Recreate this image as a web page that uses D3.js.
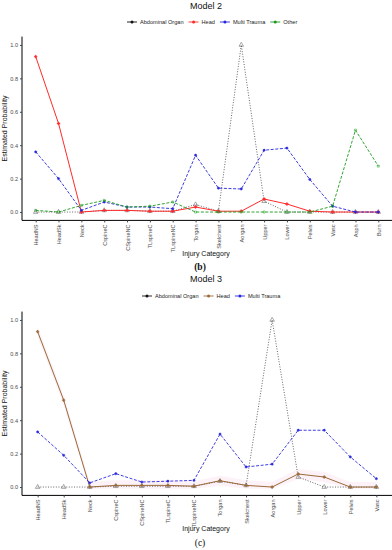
<!DOCTYPE html>
<html>
<head>
<meta charset="utf-8">
<script src="https://cdn.jsdelivr.net/npm/d3@7"></script>
<style>
  body { margin: 0; background: #fff; }
  svg { display: block; font-family: "Liberation Sans", Arial, sans-serif; }
</style>
</head>
<body>
<svg id="chart" width="392" height="550"></svg>
<script>
"use strict";

// Model 2 data
var cats2 = ["HeadNS", "HeadSk", "Neck", "CspineC", "CSpineNC", "TLspineC", "TLspineNC", "Torgan",
             "Skelchest", "Aorgan", "Upper", "Lower", "Pelvis", "Vasc", "Asph", "Burn"];
var abdominal2 = [0, 0, 0, 0.01, 0.01, 0.005, 0.005, 0.045, 0.005, 1.0, 0.065, 0, 0, 0, 0, 0];
var head2      = [0.93, 0.53, 0, 0.01, 0.01, 0.005, 0.005, 0.03, 0.005, 0.005, 0.078, 0.048, 0.005, 0, 0, 0];
var multi2     = [0.36, 0.2, 0.01, 0.06, 0.03, 0.03, 0.02, 0.34, 0.143, 0.138, 0.37, 0.383, 0.195, 0.035, 0, 0];
var other2     = [0.01, 0, 0.04, 0.07, 0.03, 0.035, 0.06, 0, 0, 0, 0, 0, 0, 0.035, 0.49, 0.275];

// Model 3 data
var cats3 = ["HeadNS", "HeadSk", "Neck", "CspineC", "CSpineNC", "TLspineC", "TLspineNC", "Torgan",
             "Skelchest", "Aorgan", "Upper", "Lower", "Pelvis", "Vasc"];
var abdominal3 = [0, 0, 0, 0.005, 0.005, 0.005, 0.005, 0.035, 0.01, 1.0, 0.06, 0, 0, 0];
var head3      = [0.93, 0.52, 0, 0.01, 0.01, 0.01, 0.005, 0.038, 0.01, 0, 0.078, 0.06, 0, 0];
var multi3     = [0.33, 0.19, 0.025, 0.08, 0.03, 0.035, 0.04, 0.317, 0.12, 0.137, 0.34, 0.34, 0.18, 0.05];

var yTicks = [0, 0.2, 0.4, 0.6, 0.8, 1.0];

var svg = d3.select("#chart");

function panel(opts) {
  var g = svg.append("g");
  var n = opts.cats.length;
  var x = d3.scaleLinear().domain([0.4, n + 0.6]).range([22, 392]);
  var y = d3.scaleLinear().domain([-0.05, 1.05]).range([opts.bottom, opts.top]);

  // title
  g.append("text")
    .attr("x", 206).attr("y", opts.titleY)
    .attr("text-anchor", "middle")
    .style("font-size", "9px").attr("fill", "#111")
    .text(opts.title);

  // legend
  var leg = g.append("g").attr("transform", "translate(0," + opts.legendY + ")");
  var lx = opts.legendX;
  opts.series.forEach(function(s) {
    var it = leg.append("g").attr("transform", "translate(" + lx + ",0)");
    it.append("line").attr("x1", -5).attr("x2", 5).attr("y1", 0).attr("y2", 0)
      .attr("stroke", s.legendColor || s.color).attr("stroke-width", 0.9);
    it.append("circle").attr("r", 1.5)
      .attr("fill", s.legendColor || s.color);
    var t = it.append("text").attr("x", 8).attr("y", 2)
      .style("font-size", "5.6px").attr("fill", "#222").text(s.name);
    lx += 8 + t.node().getComputedTextLength() + 10;
  });

  // y axis
  var yAxis = g.append("g").attr("transform", "translate(22,0)")
    .call(d3.axisLeft(y).tickValues(yTicks).tickFormat(d3.format(".1f")).tickSize(2).tickPadding(2));
  yAxis.select(".domain").attr("stroke", "#000").attr("d", "M0," + opts.top + "V" + opts.bottom);
  yAxis.selectAll(".tick line").attr("stroke", "#444");
  yAxis.selectAll("text").style("font-size", "5.6px").attr("fill", "#4d4d4d").attr("font-family", "Liberation Sans, Arial, sans-serif");

  // x axis
  var xAxis = g.append("g").attr("transform", "translate(0," + opts.bottom + ")")
    .call(d3.axisBottom(x).tickValues(d3.range(1, n + 1))
      .tickFormat(function(d) { return opts.cats[d - 1]; }).tickSize(2).tickPadding(3));
  xAxis.select(".domain").attr("stroke", "#000").attr("d", "M22,0H392");
  xAxis.selectAll(".tick line").attr("stroke", "#444");
  xAxis.selectAll("text")
    .style("font-size", "5.6px").attr("fill", "#4d4d4d")
    .attr("font-family", "Liberation Sans, Arial, sans-serif")
    .attr("text-anchor", "end")
    .attr("dy", "0.35em")
    .attr("transform", "rotate(-90) translate(-4,0)")
    .attr("x", 0).attr("y", 0);

  // axis titles
  g.append("text")
    .attr("transform", "translate(7," + ((opts.top + opts.bottom) / 2) + ") rotate(-90)")
    .attr("text-anchor", "middle").style("font-size", "7px").attr("fill", "#111")
    .text("Estimated Probability");
  g.append("text")
    .attr("x", 206).attr("y", opts.bottom + 36)
    .attr("text-anchor", "middle").style("font-size", "7px").attr("fill", "#111")
    .text("Injury Category");

  // caption
  g.append("text")
    .attr("x", 200).attr("y", opts.captionY)
    .attr("text-anchor", "middle")
    .style("font-family", "Liberation Serif, Times New Roman, serif")
    .style("font-size", "9.5px").style("font-weight", opts.captionBold ? "bold" : "normal")
    .attr("fill", "#111")
    .text(opts.caption);

  var plot = g.append("g");

  // faint ribbon for head (model 3)
  if (opts.ribbon) {
    var area = d3.area()
      .x(function(d, i) { return x(i + 1); })
      .y0(function(d) { return y(Math.max(d - 0.03, -0.01)); })
      .y1(function(d) { return y(d + 0.03); });
    plot.append("path").datum(opts.ribbon).attr("d", area)
      .attr("fill", "#fbe6ef").attr("opacity", 0.5);
  }

  var line = d3.line().x(function(d, i) { return x(i + 1); }).y(function(d) { return y(d); });

  opts.series.forEach(function(s) {
    plot.append("path").datum(s.values).attr("d", line)
      .attr("fill", "none").attr("stroke", s.color).attr("stroke-width", s.width || 0.9)
      .attr("stroke-dasharray", s.dash || null);
    plot.selectAll(null).data(s.values).enter().append("path")
      .attr("transform", function(d, i) { return "translate(" + x(i + 1) + "," + y(d) + ")"; })
      .attr("d", d3.symbol(s.symbol, s.size || 4)())
      .attr("fill", s.fill ? s.color : "none")
      .attr("stroke", s.color).attr("stroke-width", 0.5);
  });
}

panel({
  cats: cats2, title: "Model 2", titleY: 9, legendY: 22, legendX: 132,
  top: 36.6, bottom: 220.4, caption: "(b)", captionY: 270, captionBold: true,
  series: [
    { name: "Abdominal Organ", values: abdominal2, color: "#555", legendColor: "#111", dash: "1,1.6", symbol: d3.symbolTriangle, size: 9 },
    { name: "Head", values: head2, color: "#ff2a2a", symbol: d3.symbolCross, fill: true, width: 1 },
    { name: "Multi Trauma", values: multi2, color: "#2626dd", dash: "3,1.6", symbol: d3.symbolCircle, fill: true },
    { name: "Other", values: other2, color: "#1a9a1a", dash: "3,1.6", symbol: d3.symbolSquare }
  ]
});

panel({
  cats: cats3, title: "Model 3", titleY: 282, legendY: 296, legendX: 147,
  top: 311.6, bottom: 495.4, caption: "(c)", captionY: 546, captionBold: false,
  ribbon: head3,
  series: [
    { name: "Abdominal Organ", values: abdominal3, color: "#555", legendColor: "#111", dash: "1,1.6", symbol: d3.symbolTriangle, size: 9 },
    { name: "Head", values: head3, color: "#9a6a3a", symbol: d3.symbolCross, fill: true, width: 1 },
    { name: "Multi Trauma", values: multi3, color: "#2a2add", dash: "3,1.6", symbol: d3.symbolCircle, fill: true }
  ]
});
</script>
</body>
</html>
